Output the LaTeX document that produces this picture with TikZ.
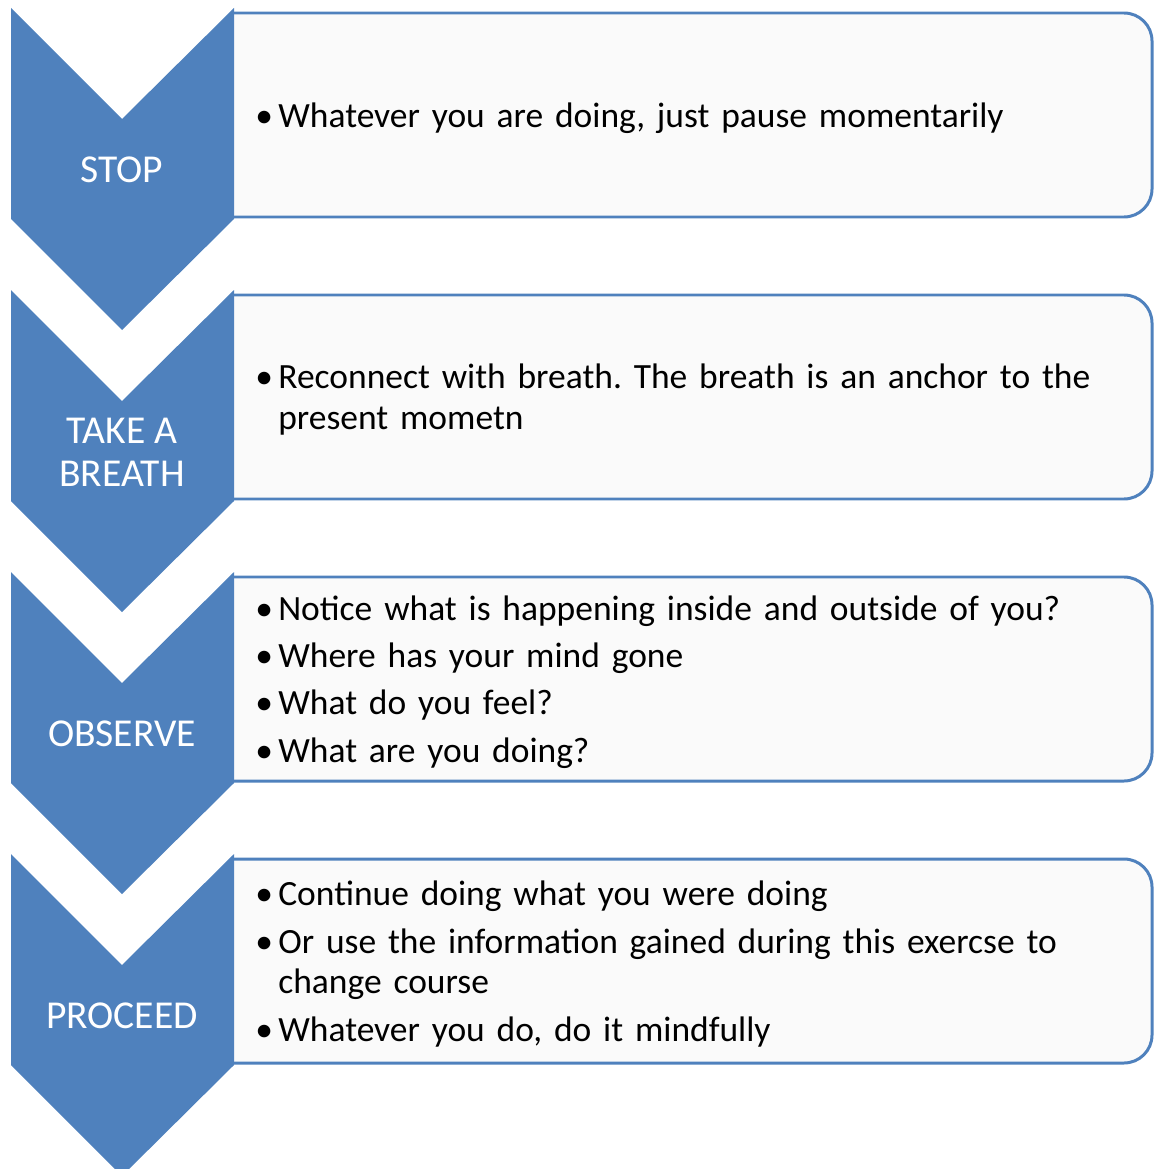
\documentclass[tikz,border=0pt]{standalone}
\usepackage{fontspec}
\setmainfont{Carlito}
\frenchspacing
\definecolor{stepblue}{RGB}{79,129,189}
\definecolor{panelfill}{RGB}{250,250,250}
\tikzset{
	chevron/.style={fill=stepblue},
	panel/.style={fill=panelfill, draw=stepblue, line width=1.7pt},
	steplabel/.style={text=white, inner sep=0pt, align=center, font=\fontsize{22.5}{24.5}\selectfont},
	steptext/.style={anchor=west, inner sep=0pt, text width=17.6cm, align=left, font=\fontsize{20.2}{23.3}\selectfont},
}
\newcommand\stepitem[1]{\noindent\makebox[0.46cm][l]{\textbullet}#1\par}
\newcommand\stepmore{\newline\hspace*{0.46cm}}
% #1 top of chevron, #2 name, #3 label, #4 bullets
\newcommand\stepblock[4]{%
	\filldraw[panel] (234, #1+5) [rounded corners=0.56cm] -- (1152, #1+5) -- (1152, #1+209) -- (234, #1+209);
	\fill[chevron] (11, #1) -- (122, #1+111) -- (234, #1) -- (234, #1+211) -- (122, #1+322) -- (11, #1+211) -- cycle;
	\node[steplabel] (lbl#2) at (122, #1+162) {#3};
	\node[steptext] (txt#2) at (255, #1+110) {\setlength\parskip{3.7pt}#4};
}

\begin{document}
\begin{tikzpicture}[x=0.02cm, y=-0.02cm]
	%%%%% START %%%%%
	\useasboundingbox (0, 0) rectangle (1154, 1169);
	
	\stepblock{8}{stop}{STOP}{\stepitem{Whatever you are doing, just pause momentarily}}
	
	\stepblock{290}{breath}{TAKE A\\BREATH}{\stepitem{Reconnect with breath. The breath is an anchor to the\stepmore present mometn}}
	
	\stepblock{572}{observe}{OBSERVE}{\stepitem{Notice what is happening inside and outside of you?}
		\stepitem{Where has your mind gone}
		\stepitem{What do you feel?}
		\stepitem{What are you doing?}}
	
	\stepblock{854}{proceed}{PROCEED}{\stepitem{Continue doing what you were doing}
		\stepitem{Or use the information gained during this exercse to\stepmore change course}
		\stepitem{Whatever you do, do it mindfully}}
	%%%%% END %%%%%
\end{tikzpicture}
\end{document}
